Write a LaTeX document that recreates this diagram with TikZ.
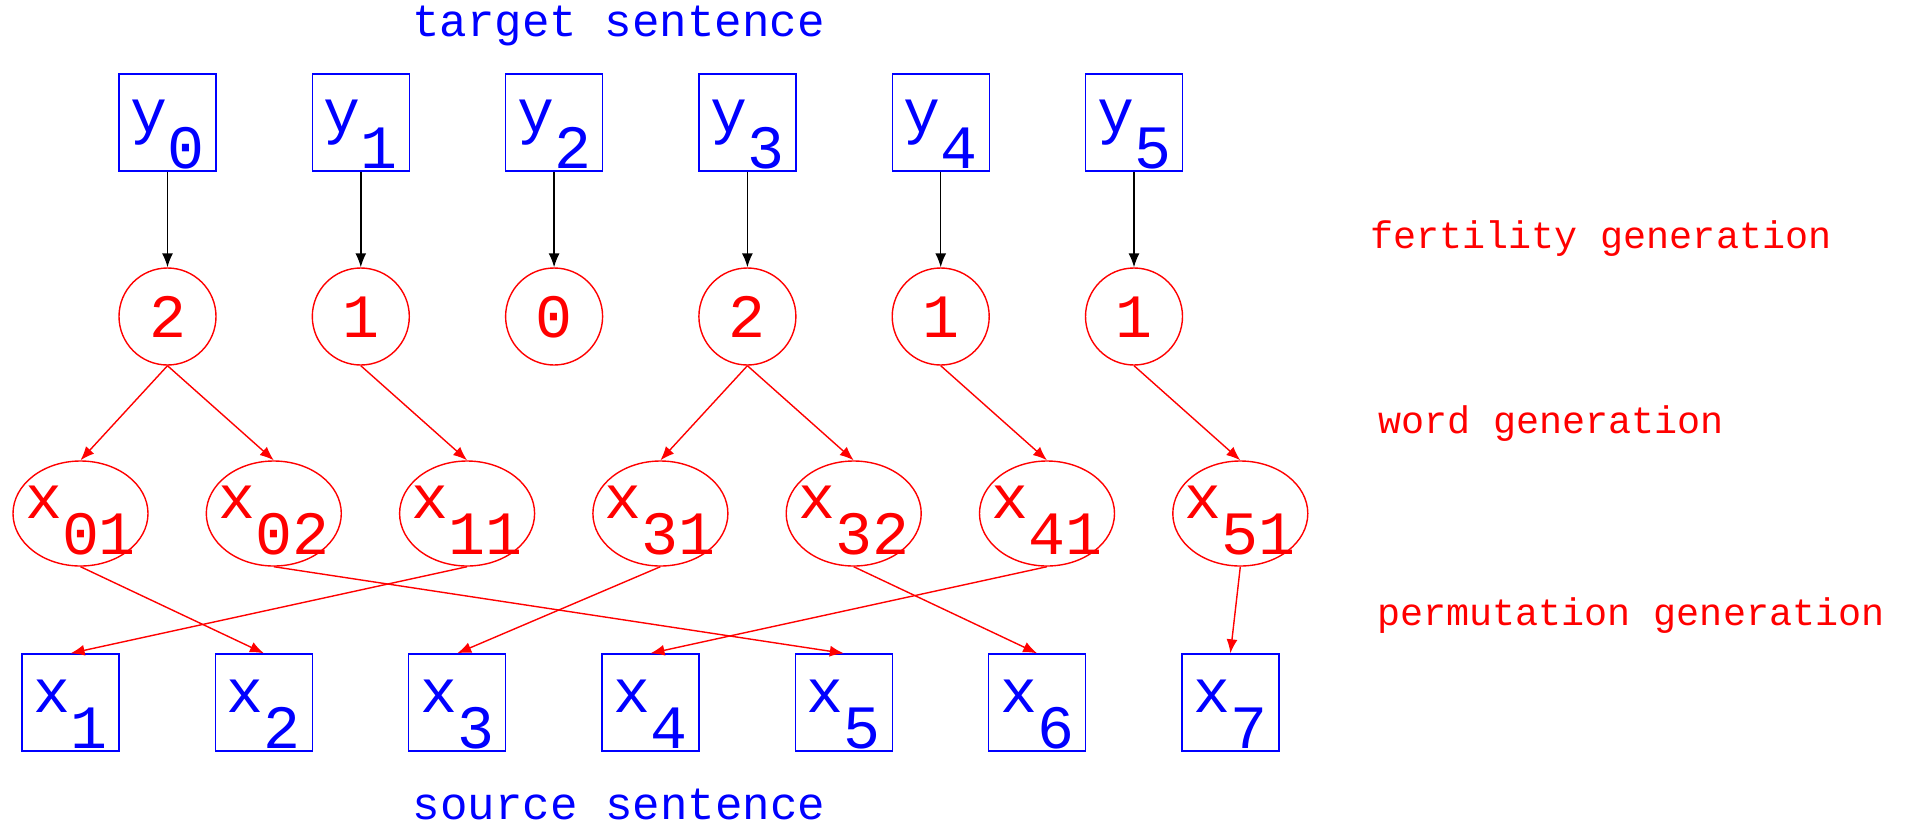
\documentclass[tikz,border=0pt]{standalone}
\usepackage{fontspec}
\setmonofont{Liberation Mono}
\usetikzlibrary{arrows.meta,shapes.geometric}
\definecolor{wordblue}{RGB}{0,0,255}
\definecolor{genred}{RGB}{255,0,0}
% a word symbol with its index set lower, at the same size
\newcommand\tok[2]{\makebox[0pt][c]{#1\raisebox{-18pt}{#2}}}
\begin{document}
\begin{tikzpicture}[x=0.5pt,y=-0.5pt,
  bigfont/.style={font=\ttfamily\fontsize{30.8}{36}\selectfont},
  wordbox/.style={bigfont,draw=wordblue,text=wordblue,line width=0.7pt,rectangle,
    minimum width=48.5pt,minimum height=48.5pt,inner sep=0pt,
    text height=20pt,text depth=10pt},
  fert/.style={bigfont,draw=genred,text=genred,line width=0.7pt,circle,
    minimum size=48.5pt,inner sep=0pt,text height=21pt,text depth=0pt},
  wgen/.style={bigfont,draw=genred,text=genred,line width=0.7pt,ellipse,
    minimum width=67.5pt,minimum height=52.5pt,inner sep=0pt,
    text height=14.5pt,text depth=10pt},
  blk/.style={-{Latex[length=7pt,width=5.5pt]},line width=0.7pt,black},
  redarr/.style={-{Latex[length=7pt,width=5.5pt]},line width=0.7pt,genred},
  caption/.style={text=wordblue,font=\ttfamily\fontsize{22.9}{27}\selectfont,
    inner sep=0pt,anchor=base},
  stage/.style={text=genred,font=\ttfamily\fontsize{19.2}{23}\selectfont,
    inner sep=0pt,anchor=base west}
]
\useasboundingbox (0,0) rectangle (1910,825);

% target words
\foreach \i in {0,...,5}
  \node[wordbox] (t\i) at ({167.5+193.3*\i},122.5) {\tok{y}{\i}};

% fertilities
\foreach \i/\v in {0/2,1/1,2/0,3/2,4/1,5/1}
  \node[fert] (f\i) at ({167.5+193.3*\i},316.5) {\makebox[0pt][c]{\v}};

\foreach \i in {0,...,5}
  \draw[blk] (t\i.south) -- (f\i.north);

% generated words
\foreach \k/\lab in {0/01,1/02,2/11,3/31,4/32,5/41,6/51}
  \node[wgen] (w\k) at ({80.5+193.3*\k},513.5) {\tok{x}{\lab}};

% source words
\foreach \k in {1,...,7}
  \node[wordbox] (s\k) at ({70.6+193.3*(\k-1)},702.5) {\tok{x}{\k}};

% word generation
\foreach \a/\b in {0/0,0/1,1/2,3/3,3/4,4/5,5/6}
  \draw[redarr] (f\a.south) -- (w\b.north);

% permutation
\foreach \a/\b in {0/2,1/5,2/1,3/3,4/6,5/4,6/7}
  \draw[redarr] (w\a.south) -- (s\b.north);

% captions
\node[caption] (tgt) at (618.5,36) {target sentence};
\node[caption] (src) at (619,819) {source sentence};
\node[stage] (fg) at (1370,248) {fertility generation};
\node[stage] (wg) at (1378,433) {word generation};
\node[stage] (pg) at (1377,625) {permutation generation};
\end{tikzpicture}
\end{document}
